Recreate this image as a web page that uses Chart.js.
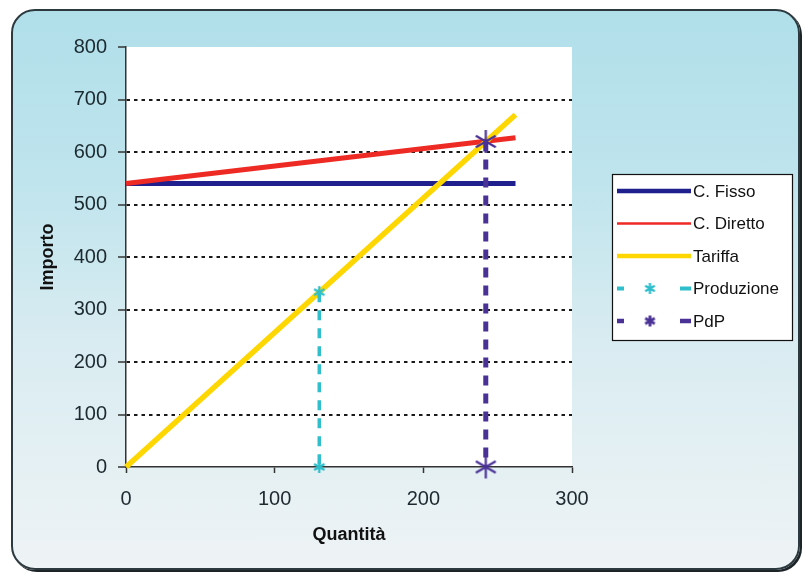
<!DOCTYPE html>
<html>
<head>
<meta charset="utf-8">
<script src="https://cdn.jsdelivr.net/npm/chart.js@4/dist/chart.umd.min.js"></script>
<style>
  html, body { margin:0; padding:0; width:804px; height:573px; overflow:hidden; background:#ffffff; }
  #frame { position:absolute; left:11px; top:9px; width:785px; height:557px;
    border:2.5px solid #2c393e; border-radius:24px;
    box-shadow: 2px 2px 0 #1e2528;
    background: linear-gradient(to bottom, #b0dfea 0%, #bfe4ed 30%, #d9ecf1 60%, #eef3f5 100%); }
  #c { position:absolute; left:0; top:0; }
</style>
</head>
<body>
<div id="frame"></div>
<canvas id="c" width="804" height="573"></canvas>
<script>
// ---- data ----
const seriesLabels = ['C. Fisso', 'C. Diretto', 'Tariffa', 'Produzione', 'PdP'];
const lineX = [0, 262];
const fissoY = [540, 540];
const direttoY = [540, 627];
const tariffaY = [0, 671];
const produzioneX = [130, 130];
const produzioneY = [333, 0];
const pdpX = [242, 242];
const pdpY = [620, 0];
const xTicks = [0, 100, 200, 300];
const yTicks = [0, 100, 200, 300, 400, 500, 600, 700, 800];
const xTitle = 'Quantità';
const yTitle = 'Importo';

const colors = { fisso:'#1f1f8e', diretto:'#ee2a24', tariffa:'#ffd700', prod:'#2fbfcc', pdp:'#4a3196' };

function pts(xs, ys) { return xs.map((x, i) => ({ x: x, y: ys[i] })); }

function makeStar(color, size, lw) {
  const c = document.createElement('canvas');
  c.width = size + 4; c.height = size + 4;
  const g = c.getContext('2d');
  const cx = c.width / 2, cy = c.height / 2, r = size / 2;
  g.strokeStyle = color; g.lineWidth = lw; g.lineCap = 'butt';
  g.beginPath();
  g.moveTo(cx, cy - r); g.lineTo(cx, cy + r);
  const a = Math.PI / 6;
  g.moveTo(cx - r * Math.cos(a), cy - r * Math.sin(a)); g.lineTo(cx + r * Math.cos(a), cy + r * Math.sin(a));
  g.moveTo(cx + r * Math.cos(a), cy - r * Math.sin(a)); g.lineTo(cx - r * Math.cos(a), cy + r * Math.sin(a));
  g.stroke();
  return c;
}
const prodStar = makeStar(colors.prod, 12, 2.4);
const pdpStarBig = makeStar(colors.pdp, 23, 2.2);
const prodStarLeg = makeStar(colors.prod, 11, 2.4);
const pdpStarLeg = makeStar(colors.pdp, 11, 2.8);

const numFont = { family: "'Liberation Sans', Arial, sans-serif", size: 20 };
const titleFont = { family: "'Liberation Sans Narrow', 'Arial Narrow', 'Liberation Sans', sans-serif", size: 18, weight: 'bold' };

const datasets = [
  { label: seriesLabels[0], data: pts(lineX, fissoY), borderColor: colors.fisso, borderWidth: 5, pointRadius: 0, order: 4, clip: false, legendWidth: 4.5 },
  { label: seriesLabels[1], data: pts(lineX, direttoY), borderColor: colors.diretto, borderWidth: 5, pointRadius: 0, order: 3, clip: false, legendWidth: 2.5 },
  { label: seriesLabels[2], data: pts(lineX, tariffaY), borderColor: colors.tariffa, borderWidth: 5.5, pointRadius: 0, order: 2, clip: false, legendWidth: 4.5 },
  { label: seriesLabels[3], data: pts(produzioneX, produzioneY), borderColor: colors.prod, borderWidth: 3.5, borderDash: [10, 8],
    pointStyle: prodStar, pointRadius: 6, order: 1, clip: false, legendWidth: 4, legendStar: prodStarLeg },
  { label: seriesLabels[4], data: pts(pdpX, pdpY), borderColor: colors.pdp, borderWidth: 5, borderDash: [10, 8],
    pointStyle: pdpStarBig, pointRadius: 11, order: 0, clip: false, legendWidth: 4.5, legendStar: pdpStarLeg }
];

const plotBg = {
  id: 'plotBg',
  beforeDraw(chart) {
    const a = chart.chartArea, ctx = chart.ctx;
    ctx.save(); ctx.fillStyle = '#ffffff';
    ctx.fillRect(a.left, a.top, a.right - a.left, a.bottom - a.top);
    ctx.restore();
  }
};

const customLegend = {
  id: 'customLegend',
  afterDraw(chart) {
    const ctx = chart.ctx;
    const bx = 612, by = 174, bw = 180, bh = 166;
    ctx.save();
    ctx.fillStyle = '#ffffff';
    ctx.fillRect(bx, by, bw, bh);
    ctx.strokeStyle = '#111'; ctx.lineWidth = 1.2;
    ctx.strokeRect(bx + 0.5, by + 0.5, bw, bh);
    const rowY0 = 191, rowStep = 32.5;
    chart.data.datasets.forEach((ds, i) => {
      const y = rowY0 + i * rowStep;
      ctx.strokeStyle = ds.borderColor;
      ctx.lineWidth = ds.legendWidth;
      ctx.setLineDash([]);
      ctx.beginPath();
      if (ds.legendStar) {
        ctx.moveTo(617, y); ctx.lineTo(624, y);
        ctx.moveTo(680, y); ctx.lineTo(691, y);
        ctx.stroke();
        ctx.drawImage(ds.legendStar, 650 - ds.legendStar.width / 2, y - ds.legendStar.height / 2);
      } else {
        ctx.moveTo(617, y); ctx.lineTo(691, y);
        ctx.stroke();
      }
      ctx.fillStyle = '#111';
      ctx.font = "17px 'Liberation Sans', Arial, sans-serif";
      ctx.textBaseline = 'middle';
      ctx.textAlign = 'left';
      ctx.fillText(ds.label, 693, y + 1);
    });
    ctx.restore();
  }
};

new Chart(document.getElementById('c'), {
  type: 'line',
  data: { datasets: datasets },
  plugins: [plotBg, customLegend],
  options: {
    responsive: false,
    animation: false,
    layout: { padding: { left: 20, top: 47, right: 232, bottom: 10 } },
    plugins: { legend: { display: false }, tooltip: { enabled: false } },
    elements: { line: { tension: 0, fill: false } },
    scales: {
      x: {
        type: 'linear', min: 0, max: 300,
        afterBuildTicks: (s) => { s.ticks = xTicks.map(v => ({ value: v })); },
        afterFit: (s) => { s.height = 96; },
        ticks: { font: numFont, color: '#1c2a30', padding: 14, maxRotation: 0 },
        grid: { drawOnChartArea: false, tickLength: 6, tickColor: '#333', tickWidth: 1.5 },
        border: { display: true, color: '#333', width: 1.5 },
        title: { display: true, text: xTitle, font: titleFont, color: '#111', padding: { top: 0, bottom: 17 } }
      },
      y: {
        type: 'linear', min: 0, max: 800,
        afterBuildTicks: (s) => { s.ticks = yTicks.map(v => ({ value: v })); },
        afterFit: (s) => { s.width = 106; },
        ticks: { font: numFont, color: '#1c2a30', padding: 11 },
        grid: {
          color: (c) => (c.tick && (c.tick.value === 0 || c.tick.value === 800)) ? 'rgba(0,0,0,0)' : '#1a1a1a',
          lineWidth: 2, tickLength: 8, tickColor: '#333', tickWidth: 1.5, tickBorderDash: []
        },
        border: { display: true, color: '#333', width: 1.5, dash: [3.5, 4] },
        title: { display: true, text: yTitle, font: titleFont, color: '#111', padding: { top: 17, bottom: 0 } }
      }
    }
  }
});
</script>
</body>
</html>
